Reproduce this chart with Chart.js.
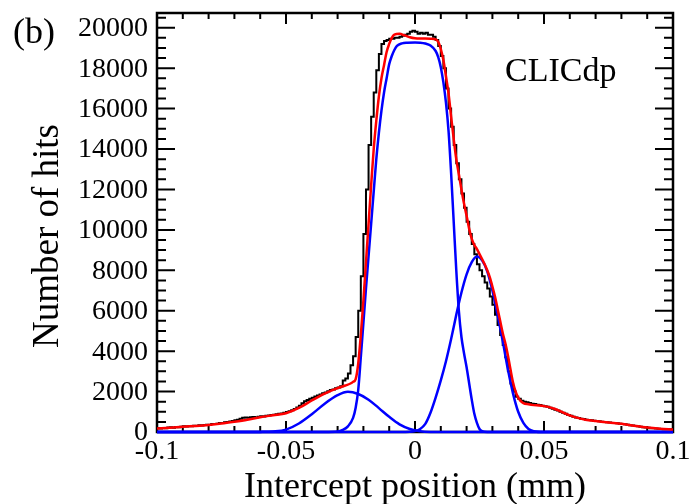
<!DOCTYPE html>
<html>
<head>
<meta charset="utf-8">
<script src="https://cdn.jsdelivr.net/npm/chart.js@4.4.1/dist/chart.umd.min.js"></script>
<style>
html,body{margin:0;padding:0;background:#fff;}
#wrap{width:689px;height:504px;position:relative;}
</style>
</head>
<body>
<div id="wrap"><canvas id="c" width="689" height="504"></canvas></div>
<script>
// ---- data ----
const binStart = -0.1;
const binWidth = 0.001;
const histCounts = [
 160,180,170,200,190,220,230,210,250,240,
 260,280,270,290,280,310,300,330,320,350,
 360,350,390,400,410,440,450,480,490,520,
 540,580,600,650,700,720,710,730,740,720,
 760,780,770,800,820,840,850,880,900,920,
 950,990,1030,1080,1140,1210,1300,1420,1520,1580,
 1640,1700,1760,1800,1860,1920,1960,2020,2080,2100,
 2160,2200,2260,2550,2650,2900,3300,3750,4700,6000,
 7700,9800,12000,14200,15600,16800,17900,18700,19200,19350,
 19400,19450,19450,19500,19500,19550,19600,19650,19700,19800,
 19850,19800,19700,19750,19700,19750,19650,19650,19550,19400,
 19100,18600,18000,17000,16000,15100,14200,13300,12500,11800,
 11100,10400,9800,9300,8800,8300,8000,7700,7400,7100,
 6700,6300,5800,5300,4800,4300,3700,3000,2400,2000,
 1750,1650,1550,1500,1470,1430,1400,1380,1350,1330,
 1300,1270,1250,1200,1150,1100,1060,1000,950,900,
 840,800,760,720,690,660,640,610,590,580,
 560,540,530,510,500,480,470,450,440,430,
 410,400,380,360,340,320,300,280,260,240,
 220,210,190,180,170,160,150,140,130,130
];

const fitX = [-0.1,-0.095,-0.09,-0.085,-0.08,-0.075,-0.07,-0.065,-0.06,-0.055,-0.05,-0.045,-0.04,-0.035,-0.03,-0.027,-0.025,-0.024,-0.023,-0.022,-0.021,-0.02,-0.019,-0.018,-0.017,-0.016,-0.015,-0.014,-0.013,-0.012,-0.011,-0.01,-0.009,-0.008,-0.006,-0.004,-0.002,0,0.002,0.004,0.006,0.008,0.009,0.01,0.011,0.012,0.013,0.014,0.015,0.016,0.017,0.018,0.019,0.02,0.021,0.022,0.023,0.024,0.025,0.026,0.027,0.028,0.029,0.03,0.031,0.032,0.033,0.034,0.035,0.036,0.037,0.038,0.039,0.04,0.041,0.042,0.044,0.046,0.048,0.05,0.052,0.054,0.056,0.058,0.06,0.063,0.066,0.07,0.075,0.08,0.085,0.09,0.095,0.1];
const fitY = [170,210,260,300,350,420,510,610,730,830,930,1190,1560,1900,2170,2300,2400,2480,2620,3400,4800,6500,8400,10300,12200,14000,15400,16600,17500,18150,18800,19200,19500,19660,19700,19620,19530,19480,19470,19470,19460,19420,19300,18950,18400,17600,16750,15600,14500,13500,12750,12000,11300,10700,10050,9550,9250,9050,8800,8550,8300,8000,7650,7200,6700,6100,5500,4900,4400,3800,3100,2450,2000,1700,1530,1430,1370,1330,1310,1280,1230,1150,1050,930,820,700,610,540,470,410,310,220,160,120];

const coreX = [-0.1,-0.035,-0.03,-0.028,-0.026,-0.024,-0.023,-0.022,-0.021,-0.02,-0.019,-0.018,-0.017,-0.016,-0.015,-0.014,-0.013,-0.012,-0.011,-0.01,-0.009,-0.008,-0.007,-0.005,-0.003,0,0.002,0.004,0.006,0.008,0.009,0.01,0.011,0.012,0.013,0.014,0.015,0.016,0.017,0.018,0.019,0.02,0.021,0.022,0.023,0.024,0.025,0.026,0.028,0.035,0.1];
const coreY = [0,0,20,100,280,700,1200,2080,3700,5400,7100,8700,10300,11900,13500,14800,15900,16800,17500,18200,18600,18900,19100,19230,19260,19270,19260,19220,19120,18850,18550,18050,17300,16300,14900,12800,10400,8000,6000,4700,3900,3200,2400,1600,900,450,150,40,0,0,0];

const leftX = [-0.1,-0.065,-0.06,-0.055,-0.05,-0.045,-0.04,-0.035,-0.03,-0.026,-0.022,-0.018,-0.014,-0.01,-0.006,-0.002,0.002,0.006,0.01,0.1];
const leftY = [0,0,5,30,120,420,880,1400,1820,1990,1880,1600,1180,750,380,150,40,5,0,0];

const rightX = [-0.1,-0.006,-0.002,0,0.002,0.004,0.006,0.008,0.01,0.012,0.014,0.016,0.018,0.02,0.022,0.024,0.026,0.028,0.03,0.032,0.034,0.036,0.038,0.04,0.042,0.044,0.046,0.05,0.1];
const rightY = [0,0,10,50,150,400,950,1700,2550,3500,4600,5800,6900,7800,8400,8680,8500,7950,7000,5800,4500,3100,1900,1000,450,150,40,0,0];

const xTicks = [-0.1,-0.05,0,0.05,0.1];
const xTickLabels = ['-0.1','-0.05','0','0.05','0.1'];
const yTicks = [0,2000,4000,6000,8000,10000,12000,14000,16000,18000,20000];
const yTickLabels = ['0','2000','4000','6000','8000','10000','12000','14000','16000','18000','20000'];
const xMinorStep = 0.01;
const yMinorStep = 500;
const xRange = [-0.1, 0.1];
const yRange = [0, 20730];

// ---- build datasets ----
const histPts = histCounts.map((v,i)=>({x: binStart + i*binWidth, y: v}));
histPts.push({x: binStart + histCounts.length*binWidth, y: histCounts[histCounts.length-1]});
const pts = (xs,ys)=>xs.map((x,i)=>({x:x,y:ys[i]}));

const FONT = "'Liberation Serif','Times New Roman',serif";

const rootStyle = {
  id:'rootStyle',
  beforeDatasetsDraw(chart){
    const {ctx, chartArea:a, scales:{x,y}} = chart;
    ctx.save();
    ctx.strokeStyle='#000';
    ctx.lineWidth=2;
    const nx = Math.round((xRange[1]-xRange[0])/xMinorStep);
    for(let i=0;i<=nx;i++){
      const v = xRange[0]+i*xMinorStep;
      const major = xTicks.some(t=>Math.abs(t-v)<1e-9);
      const len = major?11:6;
      const px = x.getPixelForValue(v);
      ctx.beginPath();
      ctx.moveTo(px,a.bottom); ctx.lineTo(px,a.bottom-len);
      ctx.moveTo(px,a.top); ctx.lineTo(px,a.top+len);
      ctx.stroke();
    }
    const ny = Math.floor((yRange[1]-yRange[0])/yMinorStep);
    for(let i=0;i<=ny;i++){
      const v = yRange[0]+i*yMinorStep;
      const major = yTicks.includes(v);
      const len = major?18:9;
      const py = y.getPixelForValue(v);
      ctx.beginPath();
      ctx.moveTo(a.left,py); ctx.lineTo(a.left+len,py);
      ctx.moveTo(a.right,py); ctx.lineTo(a.right-len,py);
      ctx.stroke();
    }
    ctx.lineWidth=2.5;
    ctx.strokeRect(a.left,a.top,a.right-a.left,a.bottom-a.top);
    ctx.restore();
  },
  afterDraw(chart){
    const {ctx, chartArea:a, scales:{x,y}} = chart;
    ctx.save();
    ctx.fillStyle='#000';
    ctx.font = "28px "+FONT;
    ctx.textAlign='right'; ctx.textBaseline='middle';
    yTicks.forEach((v,i)=>{ ctx.fillText(yTickLabels[i], a.left-9, y.getPixelForValue(v)+1); });
    ctx.textAlign='center'; ctx.textBaseline='top';
    xTicks.forEach((v,i)=>{ ctx.fillText(xTickLabels[i], x.getPixelForValue(v), a.bottom+6); });
    ctx.font = "36px "+FONT;
    ctx.textAlign='center'; ctx.textBaseline='alphabetic';
    ctx.fillText('Intercept position (mm)', (a.left+a.right)/2, 497);
    ctx.save();
    ctx.font = "37px "+FONT;
    ctx.translate(58, 236);
    ctx.rotate(-Math.PI/2);
    ctx.fillText('Number of hits', 0, 0);
    ctx.restore();
    ctx.textAlign='left';
    ctx.fillText('(b)', 13, 43);
    ctx.font = "34px "+FONT;
    ctx.fillText('CLICdp', 505, 81);
    ctx.restore();
  }
};

new Chart(document.getElementById('c'), {
  type:'line',
  data:{
    datasets:[
      {label:'Fit', data:pts(fitX,fitY), borderColor:'#ff0000', borderWidth:2.5, cubicInterpolationMode:'monotone', pointRadius:0, order:0, clip:false},
      {label:'Core', data:pts(coreX,coreY), borderColor:'#0000ff', borderWidth:2.5, cubicInterpolationMode:'monotone', pointRadius:0, order:1, clip:false},
      {label:'Left', data:pts(leftX,leftY), borderColor:'#0000ff', borderWidth:2.5, cubicInterpolationMode:'monotone', pointRadius:0, order:1, clip:false},
      {label:'Right', data:pts(rightX,rightY), borderColor:'#0000ff', borderWidth:2.5, cubicInterpolationMode:'monotone', pointRadius:0, order:1, clip:false},
      {label:'Data', data:histPts, borderColor:'#000000', borderWidth:2, stepped:'after', pointRadius:0, order:2, clip:false}
    ]
  },
  options:{
    responsive:false,
    animation:false,
    events:[],
    layout:{padding:{left:157,right:16,top:13,bottom:72}},
    plugins:{legend:{display:false},tooltip:{enabled:false}},
    scales:{
      x:{type:'linear',min:xRange[0],max:xRange[1],display:false},
      y:{type:'linear',min:yRange[0],max:yRange[1],display:false}
    }
  },
  plugins:[rootStyle]
});
</script>
</body>
</html>
